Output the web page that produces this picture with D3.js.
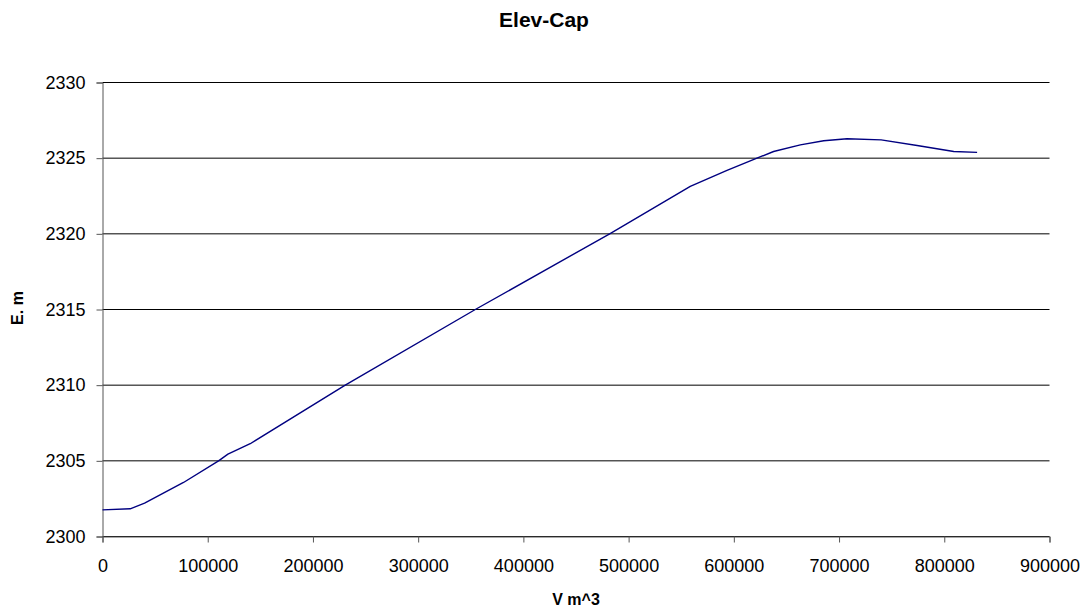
<!DOCTYPE html>
<html>
<head>
<meta charset="utf-8">
<script src="https://cdn.jsdelivr.net/npm/d3@7"></script>
<style>
  html, body { margin: 0; padding: 0; background: #fff; }
  svg { display: block; font-family: "Liberation Sans", Arial, sans-serif; }
</style>
</head>
<body>
<svg id="chart" width="1090" height="615"></svg>
<script>
// Data
const volumes = [0, 26300, 40000, 77000, 110300, 119200, 140400, 230700, 354300, 482000,
                 558600, 593500, 622000, 637800, 663200, 685400, 707600, 740000, 774200, 809000, 831200];
const elevations = [2301.76, 2301.83, 2302.2, 2303.57, 2305.0, 2305.44, 2306.13, 2310.0, 2315.0, 2320.0,
                    2323.13, 2324.19, 2325.0, 2325.44, 2325.88, 2326.15, 2326.28, 2326.21, 2325.84, 2325.44, 2325.38];
const xTicks = [0, 100000, 200000, 300000, 400000, 500000, 600000, 700000, 800000, 900000];
const yTicks = [2300, 2305, 2310, 2315, 2320, 2325, 2330];
const titleText = "Elev-Cap";
const xTitle = "V m^3";
const yTitle = "E. m";

const svg = d3.select("#chart");
const pLeft = 102.5, pRight = 1049.5, pTop = 82.5, pBottom = 536.5;

const x = d3.scaleLinear().domain([0, 900000]).range([pLeft, pRight]);
const y = d3.scaleLinear().domain([2300, 2330]).range([pBottom, pTop]);

// gridlines
svg.append("g").selectAll("line").data(yTicks).join("line")
  .attr("x1", pLeft).attr("x2", pRight)
  .attr("y1", d => y(d)).attr("y2", d => y(d))
  .attr("stroke", "#000").attr("stroke-width", 1);

// x axis
const xAxis = d3.axisBottom(x).tickValues(xTicks).tickSize(6).tickPadding(17).tickFormat(d3.format("d"));
const gx = svg.append("g").attr("transform", `translate(0,${pBottom})`).call(xAxis);
gx.select(".domain").attr("stroke", "#555");
gx.selectAll(".tick line").attr("stroke", "#555");
gx.selectAll("text").attr("font-size", 18).attr("fill", "#000")
  .attr("font-family", "Liberation Sans, Arial, sans-serif");

// y axis
const yAxis = d3.axisLeft(y).tickValues(yTicks).tickSize(6).tickPadding(11).tickFormat(d3.format("d"));
const gy = svg.append("g").attr("transform", `translate(${pLeft},0)`).call(yAxis);
gy.select(".domain").attr("stroke", "#555");
gy.selectAll(".tick line").attr("stroke", "#555");
gy.selectAll("text").attr("font-size", 18).attr("fill", "#000")
  .attr("font-family", "Liberation Sans, Arial, sans-serif");

// series
const pts = volumes.map((v, i) => [v, elevations[i]]);
svg.append("path").datum(pts)
  .attr("fill", "none").attr("stroke", "#000080").attr("stroke-width", 1.4)
  .attr("stroke-linejoin", "round")
  .attr("d", d3.line().x(d => x(d[0])).y(d => y(d[1])));

// titles
svg.append("text").attr("x", 544).attr("y", 27).attr("text-anchor", "middle")
  .attr("font-size", 21).attr("font-weight", "bold").text(titleText);
svg.append("text").attr("x", 576).attr("y", 605).attr("text-anchor", "middle")
  .attr("font-size", 16).attr("font-weight", "bold").text(xTitle);
svg.append("text").attr("transform", "translate(23,308) rotate(-90)").attr("text-anchor", "middle")
  .attr("font-size", 16).attr("font-weight", "bold").text(yTitle);
</script>
</body>
</html>
